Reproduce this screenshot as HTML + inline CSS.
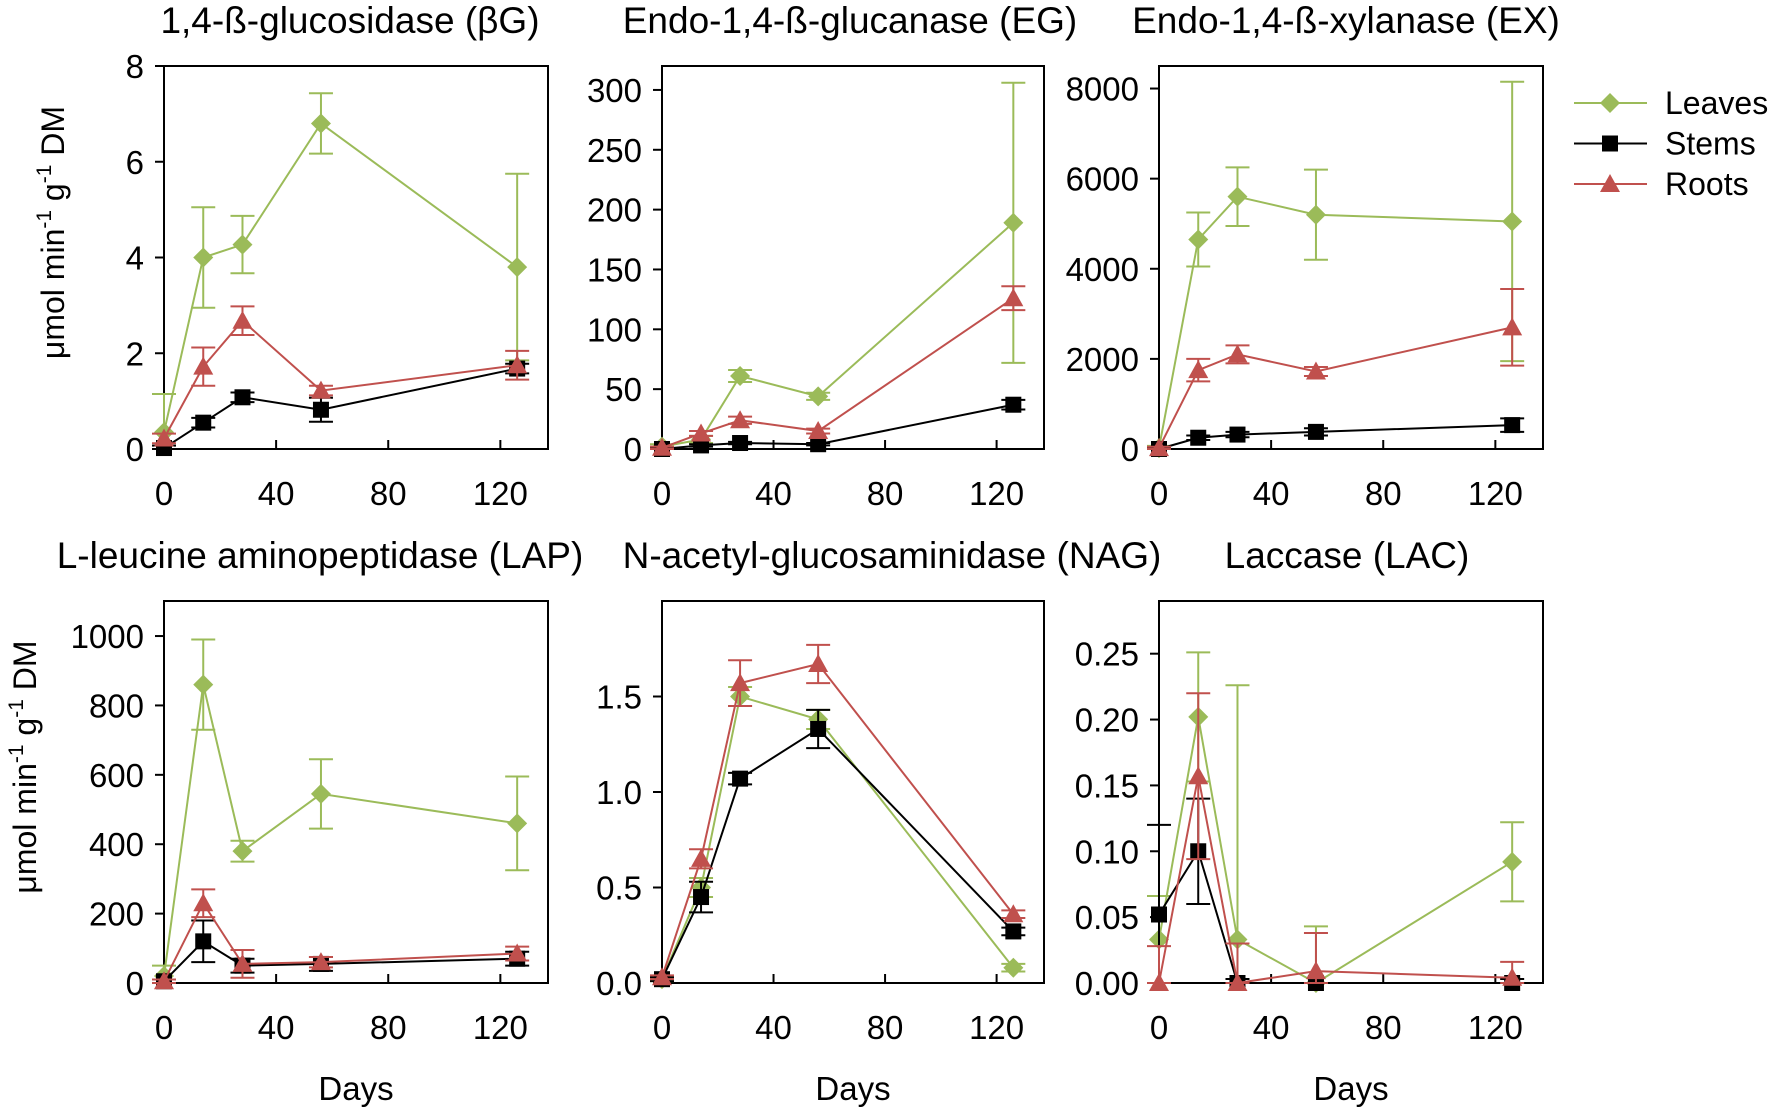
<!DOCTYPE html>
<html><head><meta charset="utf-8"><style>
html,body{margin:0;padding:0;background:#fff;}
svg{display:block;font-family:"Liberation Sans",sans-serif;}
</style></head><body>
<svg id="chart" width="1772" height="1110" viewBox="0 0 1772 1110"></svg>
<script>
const days = [0, 14, 28, 56, 126];
const seriesNames = ["Leaves", "Stems", "Roots"];
const xTicks = [0, 40, 80, 120];

const bgLeaves = [0.35, 4.0, 4.27, 6.8, 3.8];
const bgLeavesErr = [0.8, 1.05, 0.6, 0.63, 1.95];
const bgStems = [0.02, 0.55, 1.08, 0.82, 1.68];
const bgStemsErr = [0.05, 0.1, 0.1, 0.25, 0.1];
const bgRoots = [0.22, 1.72, 2.68, 1.22, 1.75];
const bgRootsErr = [0.1, 0.4, 0.3, 0.1, 0.3];
const bgTicks = [0, 2, 4, 6, 8];

const egLeaves = [2, 8, 61, 44, 189];
const egLeavesErr = [2, 3, 5, 3, 117];
const egStems = [0, 3, 5, 4, 37];
const egStemsErr = [1, 1, 1, 1, 4];
const egRoots = [1, 13, 24, 15, 126];
const egRootsErr = [1, 2, 3, 2, 10];
const egTicks = [0, 50, 100, 150, 200, 250, 300];

const exLeaves = [20, 4650, 5600, 5200, 5050];
const exLeavesErr = [50, 600, 650, 1000, 3100];
const exStems = [0, 250, 320, 380, 530];
const exStemsErr = [20, 50, 60, 80, 150];
const exRoots = [20, 1750, 2100, 1720, 2700];
const exRootsErr = [30, 250, 200, 100, 850];
const exTicks = [0, 2000, 4000, 6000, 8000];

const lapLeaves = [20, 860, 380, 545, 460];
const lapLeavesErr = [30, 130, 30, 100, 135];
const lapStems = [5, 120, 50, 55, 70];
const lapStemsErr = [5, 60, 20, 20, 20];
const lapRoots = [5, 230, 55, 60, 85];
const lapRootsErr = [5, 40, 40, 15, 20];
const lapTicks = [0, 200, 400, 600, 800, 1000];

const nagLeaves = [0.02, 0.5, 1.5, 1.38, 0.08];
const nagLeavesErr = [0.01, 0.05, 0.05, 0.05, 0.02];
const nagStems = [0.02, 0.45, 1.07, 1.33, 0.27];
const nagStemsErr = [0.01, 0.08, 0.03, 0.1, 0.02];
const nagRoots = [0.03, 0.65, 1.57, 1.67, 0.36];
const nagRootsErr = [0.01, 0.05, 0.12, 0.1, 0.02];
const nagTicks = [0, 0.5, 1.0, 1.5];
const nagTickLabels = ["0.0", "0.5", "1.0", "1.5"];

const lacLeaves = [0.033, 0.202, 0.033, 0.0, 0.092];
const lacLeavesErr = [0.033, 0.049, 0.193, 0.043, 0.03];
const lacStems = [0.052, 0.10, 0.0, 0.0, 0.0];
const lacStemsErr = [0.068, 0.04, 0.003, 0.0, 0.003];
const lacRoots = [0.0, 0.157, 0.0, 0.009, 0.004];
const lacRootsErr = [0.028, 0.063, 0.03, 0.029, 0.012];
const lacTicks = [0, 0.05, 0.10, 0.15, 0.20, 0.25];
const lacTickLabels = ["0.00", "0.05", "0.10", "0.15", "0.20", "0.25"];

const NS = "http://www.w3.org/2000/svg";
const svg = document.getElementById("chart");
const colors = {Leaves: "#9bbb59", Stems: "#000000", Roots: "#c0504d"};

function mk(tag, attrs, parent) {
  const e = document.createElementNS(NS, tag);
  for (const k in attrs) e.setAttribute(k, attrs[k]);
  (parent || svg).appendChild(e);
  return e;
}
function marker(name, cx, cy, g) {
  let e;
  if (name === "Leaves") {
    const r = 10;
    e = mk("polygon", {points: `${cx},${cy-r} ${cx+r},${cy} ${cx},${cy+r} ${cx-r},${cy}`, fill: colors.Leaves}, g);
  } else if (name === "Stems") {
    e = mk("rect", {x: cx-8, y: cy-8, width: 16, height: 16, fill: "#000"}, g);
  } else {
    e = mk("polygon", {points: `${cx},${cy-10} ${cx+10},${cy+8} ${cx-10},${cy+8}`, fill: colors.Roots}, g);
  }
  return e;
}

const panels = [
  {id: "bg", title: "1,4-ß-glucosidase (βG)", tx: 350, L: 164, T: 66, R: 548, B: 449, ymax: 8, ticks: bgTicks, labels: null, data: [[bgLeaves, bgLeavesErr], [bgStems, bgStemsErr], [bgRoots, bgRootsErr]], ytitle: 52},
  {id: "eg", title: "Endo-1,4-ß-glucanase (EG)", tx: 850, L: 662, T: 66, R: 1044, B: 449, ymax: 320, ticks: egTicks, labels: null, data: [[egLeaves, egLeavesErr], [egStems, egStemsErr], [egRoots, egRootsErr]]},
  {id: "ex", title: "Endo-1,4-ß-xylanase (EX)", tx: 1346, L: 1159, T: 66, R: 1543, B: 449, ymax: 8500, ticks: exTicks, labels: null, data: [[exLeaves, exLeavesErr], [exStems, exStemsErr], [exRoots, exRootsErr]]},
  {id: "lap", title: "L-leucine aminopeptidase (LAP)", tx: 320, L: 164, T: 601, R: 548, B: 983, ymax: 1101, ticks: lapTicks, labels: null, data: [[lapLeaves, lapLeavesErr], [lapStems, lapStemsErr], [lapRoots, lapRootsErr]], ytitle: 24, days: true},
  {id: "nag", title: "N-acetyl-glucosaminidase (NAG)", tx: 892, L: 662, T: 601, R: 1044, B: 983, ymax: 2.0, ticks: nagTicks, labels: nagTickLabels, data: [[nagLeaves, nagLeavesErr], [nagStems, nagStemsErr], [nagRoots, nagRootsErr]], days: true},
  {id: "lac", title: "Laccase (LAC)", tx: 1347, L: 1159, T: 601, R: 1543, B: 983, ymax: 0.29, ticks: lacTicks, labels: lacTickLabels, data: [[lacLeaves, lacLeavesErr], [lacStems, lacStemsErr], [lacRoots, lacRootsErr]], days: true}
];
const XMAX = 137;

panels.forEach(p => {
  const g = mk("g", {});
  
  
  const xs = d => p.L + d / XMAX * (p.R - p.L);
  const ys = v => p.B - v / p.ymax * (p.B - p.T);
  const cx = (p.L + p.R) / 2;
  const tt = mk("text", {x: p.tx, y: p.T - 33, "text-anchor": "middle", "font-size": 37, fill: "#000"}, g);
  tt.textContent = p.title;
  
  
  const fr = mk("rect", {x: p.L, y: p.T, width: p.R - p.L, height: p.B - p.T, fill: "none", stroke: "#000", "stroke-width": 2}, g);
  
  
  p.ticks.forEach((t, i) => {
    const y = ys(t);
    mk("line", {x1: p.L - 9, x2: p.L, y1: y, y2: y, stroke: "#000", "stroke-width": 2}, g);
    const lb = mk("text", {x: p.L - 20, y: y + 12, "text-anchor": "end", "font-size": 33, fill: "#000"}, g);
    lb.textContent = p.labels ? p.labels[i] : String(t);
    
    
  });
  xTicks.forEach(t => {
    const x = xs(t);
    mk("line", {x1: x, x2: x, y1: p.B, y2: p.B - 9, stroke: "#000", "stroke-width": 2}, g);
    const lb = mk("text", {x: x, y: p.B + 56, "text-anchor": "middle", "font-size": 33, fill: "#000"}, g);
    lb.textContent = String(t);
    
    
  });
  if (p.days) {
    const dl = mk("text", {x: cx, y: p.B + 117, "text-anchor": "middle", "font-size": 33, fill: "#000"}, g);
    dl.textContent = "Days";
    
    
  }
  if (p.ytitle) {
    const yc = (p.T + p.B) / 2 - 25;
    const yt = mk("text", {x: 0, y: 0, transform: `translate(${p.ytitle + 12},${yc}) rotate(-90)`, "text-anchor": "middle", "font-size": 32, fill: "#000"}, g);
    yt.innerHTML = 'μmol min<tspan dy="-13" font-size="21">-1</tspan><tspan dy="13"> g</tspan><tspan dy="-13" font-size="21">-1</tspan><tspan dy="13"> DM</tspan>';
    
    
  }
  const clipId = "clip-" + p.id;
  const cp = mk("clipPath", {id: clipId}, g);
  mk("rect", {x: p.L - 12, y: p.T, width: p.R - p.L + 24, height: p.B - p.T + 14}, cp);
  const dg = mk("g", {"clip-path": `url(#${clipId})`}, g);
  p.data.forEach((sd, si) => {
    const name = seriesNames[si];
    const col = colors[name];
    const vals = sd[0], errs = sd[1];
    const sg = mk("g", {}, dg);
    
    
    const pts = days.map((d, i) => `${xs(d)},${ys(vals[i])}`).join(" ");
    mk("polyline", {points: pts, fill: "none", stroke: col, "stroke-width": 2}, sg);
    days.forEach((d, i) => {
      const x = xs(d), y1 = ys(vals[i] + errs[i]), y2 = ys(Math.max(0, vals[i] - errs[i]));
      mk("line", {x1: x, x2: x, y1: y1, y2: y2, stroke: col, "stroke-width": 2}, sg);
      mk("line", {x1: x - 12, x2: x + 12, y1: y1, y2: y1, stroke: col, "stroke-width": 2}, sg);
      mk("line", {x1: x - 12, x2: x + 12, y1: y2, y2: y2, stroke: col, "stroke-width": 2}, sg);
    });
    days.forEach((d, i) => {
      const m = marker(name, xs(d), ys(vals[i]), sg);
      
      
    });
  });
});

const lg = mk("g", {});


seriesNames.forEach((n, i) => {
  const y = 103 + i * 40.5;
  const eg = mk("g", {}, lg);
  
  
  mk("line", {x1: 1574, x2: 1647, y1: y, y2: y, stroke: colors[n], "stroke-width": 2}, eg);
  marker(n, 1610, y, eg);
  const t = mk("text", {x: 1665, y: y + 11, "font-size": 32, fill: "#000"}, eg);
  t.textContent = n;
});
</script>
</body></html>
